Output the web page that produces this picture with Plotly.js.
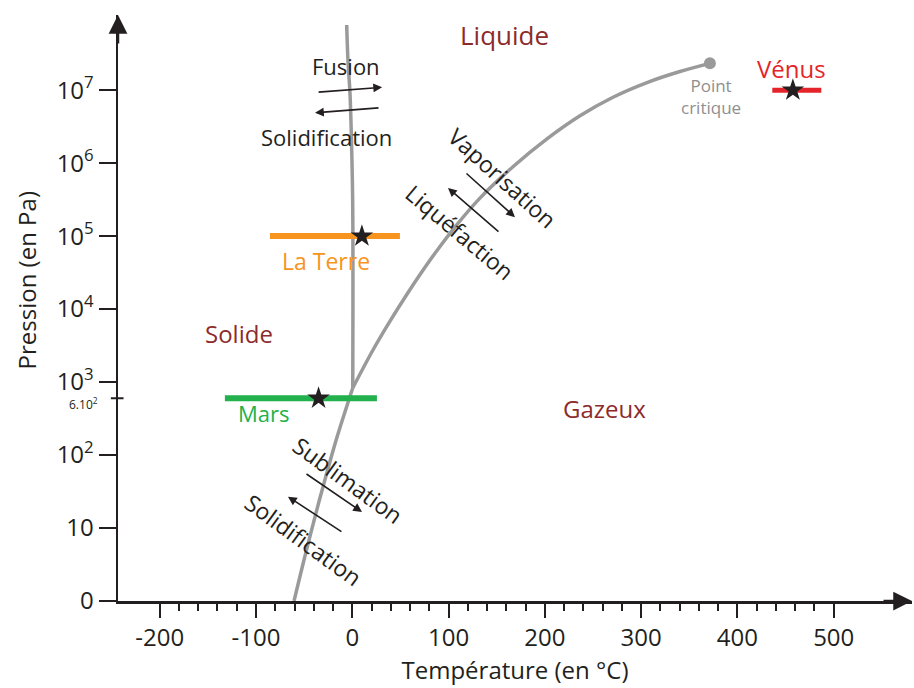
<!DOCTYPE html>
<html>
<head>
<meta charset="utf-8">
<script src="https://cdn.plot.ly/plotly-3.0.1.min.js"></script>
<style>html,body{margin:0;padding:0;background:#fff;}#chart{width:914px;height:688px;}</style>
</head>
<body>
<div id="chart"></div>
<script>
// ---- Data (temperature in °C, pressure in Pa) ----
const fusionT = [0.5, 0.4, -1.4, -2.4, -4.5, -5.8];
const fusionP = [830, 3.1e5, 3.9e6, 9.2e6, 2.6e7, 7.8e7];

const vaporT = [0.5, 21.5, 39.2, 56.8, 73.4, 91.1, 108.7, 132.6, 166.9, 202.2, 236.5, 270.8, 306.1, 340.3, 371.4];
const vaporP = [830, 2750, 6840, 1.60e4, 3.41e4, 7.22e4, 1.44e5, 3.32e5, 8.93e5, 2.15e6, 4.46e6, 8.0e6, 1.27e7, 1.80e7, 2.33e7];

const sublT = [0.5, -15.5, -25.3, -34.7, -43.6, -52.2, -60.5];
const sublP = [830, 182, 64.4, 22.7, 8.0, 2.83, 1.0];

const criticalT = [371.4];
const criticalP = [2.33e7];

const planetNames = ['La Terre', 'Mars', 'Vénus'];
const planetTmin  = [-85.5, -132.3, 436.2];
const planetTmax  = [49.5, 25.6, 487.1];
const planetTmean = [10, -35, 457.6];
const planetP     = [1e5, 600, 1e7];

const tempTicks = [-200, -100, 0, 100, 200, 300, 400, 500];
const tempMinorTicks = [-180,-160,-140,-120,-80,-60,-40,-20,20,40,60,80,120,140,160,180,220,240,260,280,320,340,360,380,420,440,460,480];
const pressureTicks = [1, 10, 100, 1e3, 1e4, 1e5, 1e6, 1e7];
const pressureTickText = ['0', '10', '10<sup>2</sup>', '10<sup>3</sup>', '10<sup>4</sup>', '10<sup>5</sup>', '10<sup>6</sup>', '10<sup>7</sup>'];
const marsTickValue = 600;
const marsTickText = '6.10<sup>2</sup>';

// ---- Styles ----
const FONT = 'Open Sans, Noto Sans, sans-serif';
const INK = '#231f20';
const CURVE = '#9a9a9a';
const PHASE = '#8c2b2b';
const planetColors = ['#f7941d', '#22b14c', '#e3242b'];

const traces = [];
const curveLine = {color: CURVE, width: 3.5, shape: 'spline', smoothing: 1};
traces.push({x: fusionT, y: fusionP, mode: 'lines', line: curveLine, hoverinfo: 'skip'});
traces.push({x: vaporT, y: vaporP, mode: 'lines', line: curveLine, hoverinfo: 'skip'});
traces.push({x: sublT, y: sublP, mode: 'lines', line: curveLine, hoverinfo: 'skip'});
traces.push({x: criticalT, y: criticalP, mode: 'markers', marker: {color: CURVE, size: 12}, hoverinfo: 'skip'});
for (let i = 0; i < planetNames.length; i++) {
  traces.push({x: [planetTmin[i], planetTmax[i]], y: [planetP[i], planetP[i]], mode: 'lines',
    line: {color: planetColors[i], width: i === 2 ? 5 : 6}, name: planetNames[i], hoverinfo: 'skip'});
}
traces.push({x: planetTmean, y: planetP, mode: 'markers', marker: {symbol: 'star', size: 17, color: INK}, hoverinfo: 'skip'});

const L = Math.log10;
function txt(text, T, P, color, size, angle) {
  return {text: text, x: T, y: L(P), xref: 'x', yref: 'y', showarrow: false,
    xanchor: 'center', yanchor: 'middle',
    font: {family: FONT, size: size, color: color}, textangle: angle || 0};
}
function arr(T, P, ax, ay) {
  return {text: '', x: T, y: L(P), xref: 'x', yref: 'y', ax: ax, ay: ay, showarrow: true,
    arrowhead: 2, arrowsize: 1.1, arrowwidth: 1.6, arrowcolor: INK, standoff: 0, startstandoff: 0};
}

const annotations = [
  txt('Liquide', 158.6, Math.pow(10, 7.76), PHASE, 26),
  txt('Solide', -117.7, Math.pow(10, 3.66), PHASE, 24),
  txt('Gazeux', 262.4, Math.pow(10, 2.64), PHASE, 24),
  txt('Fusion', -6.5, Math.pow(10, 7.33), INK, 22),
  txt('Solidification', -26.3, Math.pow(10, 6.36), INK, 22),
  txt('Vaporisation', 156.5, Math.pow(10, 5.80), INK, 23, 42),
  txt('Liquéfaction', 111.8, Math.pow(10, 5.06), INK, 23, 40),
  txt('Sublimation', -4.5, Math.pow(10, 1.66), INK, 23, 36),
  txt('Solidification', -50.2, Math.pow(10, 0.84), INK, 23, 36),
  txt('La Terre', -27.3, Math.pow(10, 4.66), planetColors[0], 23),
  txt('Mars', -91.7, Math.pow(10, 2.58), planetColors[1], 22),
  txt('Vénus', 456.6, Math.pow(10, 7.30), planetColors[2], 24),
  txt('Point<br>critique', 372.4, Math.pow(10, 6.92), '#8f8f8f', 17),
  arr(31.0, Math.pow(10, 7.04), -65, 5),
  arr(-38.7, Math.pow(10, 6.69), 65, -5),
  arr(169, Math.pow(10, 5.26), -50, -45),
  arr(99.4, Math.pow(10, 5.66), 52, 45),
  arr(10.1, Math.pow(10, 1.22), -57, -39),
  arr(-66.8, Math.pow(10, 1.43), 55, 36),
  // axis arrowheads
  {text: '', x: 0, y: 1, xref: 'paper', yref: 'paper', ax: 0, ay: 30, showarrow: true,
   arrowhead: 2, arrowsize: 1.5, arrowwidth: 2.5, arrowcolor: INK, standoff: 0},
  {text: '', x: 1, y: 0, xref: 'paper', yref: 'paper', ax: -30, ay: 0, showarrow: true,
   arrowhead: 2, arrowsize: 1.5, arrowwidth: 2.5, arrowcolor: INK, standoff: 0},
  // Mars pressure tick label
  {text: marsTickText, x: -0.0227, y: L(marsTickValue), xref: 'paper', yref: 'y', xanchor: 'right', yanchor: 'middle',
   showarrow: false, yshift: -6, font: {family: FONT, size: 12, color: INK}},
  // y title
  {text: 'Pression (en Pa)', x: -0.1159, y: 0.547, xref: 'paper', yref: 'paper', textangle: -90,
   xanchor: 'center', yanchor: 'middle',
   showarrow: false, font: {family: FONT, size: 24, color: INK}}
];

const layout = {
  width: 914, height: 688,
  margin: {l: 118, r: 2, t: 15, b: 87},
  paper_bgcolor: '#fff', plot_bgcolor: '#fff',
  showlegend: false,
  font: {family: FONT, color: INK},
  xaxis: {
    range: [-243.3, 581.3], showgrid: false, zeroline: false,
    showline: true, linewidth: 2.5, linecolor: INK,
    tickmode: 'array', tickvals: tempTicks, ticktext: tempTicks.map(String),
    ticks: 'outside', ticklen: 14, tickwidth: 2, tickcolor: INK,
    tickfont: {family: FONT, size: 24, color: INK},
    minor: {tickmode: 'array', tickvals: tempMinorTicks, ticks: 'outside', ticklen: 7, tickwidth: 2, tickcolor: INK, showgrid: false},
    title: {text: 'Température (en °C)', font: {family: FONT, size: 24, color: INK}, standoff: 8}
  },
  yaxis: {
    type: 'log', range: [0, 8.03], showgrid: false, zeroline: false,
    showline: true, linewidth: 2.5, linecolor: INK,
    tickmode: 'array', tickvals: pressureTicks, ticktext: pressureTickText,
    ticks: 'outside', ticklen: 17, tickwidth: 2, tickcolor: INK,
    tickfont: {family: FONT, size: 24, color: INK}
  },
  shapes: [
    {type: 'line', xref: 'paper', yref: 'y', x0: -0.009, x1: 0.007, y0: marsTickValue, y1: marsTickValue,
     line: {color: INK, width: 2}}
  ],
  annotations: annotations
};

Plotly.newPlot('chart', traces, layout, {displayModeBar: false, staticPlot: true});
</script>
</body>
</html>
